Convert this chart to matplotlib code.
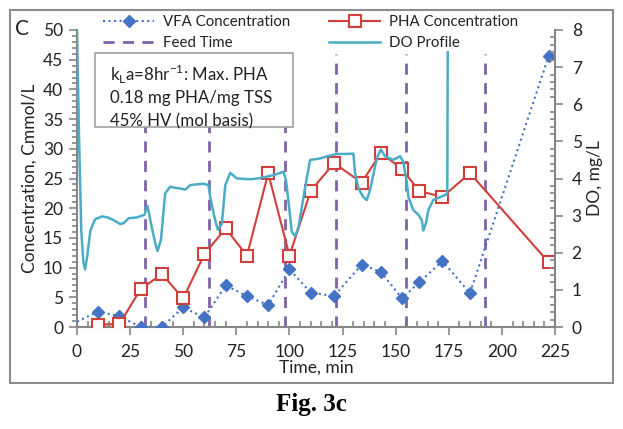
import matplotlib.pyplot as plt
from matplotlib.patches import Rectangle
from matplotlib.ticker import MultipleLocator

plt.rcParams['font.family'] = ['Lato', 'DejaVu Sans']
plt.rcParams['mathtext.fontset'] = 'custom'
plt.rcParams['mathtext.rm'] = 'Lato'

# VFA concentration (Cmmol/L) - first point is the line start, no marker
vfa_t = [0, 10, 20, 30, 40, 50, 60, 70, 80, 90, 100, 110, 121, 134, 143, 153, 161, 172, 185, 222]
vfa_c = [0.9, 2.6, 1.8, 0, 0, 3.3, 1.6, 7.0, 5.2, 3.7, 9.7, 5.8, 5.2, 10.5, 9.3, 4.8, 7.5, 11.1, 5.7, 45.6]

# PHA concentration (Cmmol/L)
pha_t = [10, 20, 30, 40, 50, 60, 70, 80, 90, 100, 110, 121, 134, 143, 153, 161, 172, 185, 222]
pha_c = [0.4, 0.5, 6.4, 8.9, 4.8, 12.3, 16.6, 12.0, 25.9, 12.0, 22.9, 27.6, 24.3, 29.3, 26.6, 22.9, 21.9, 25.9, 10.9]

# feed times (min)
feed_t = [32, 62, 98, 122, 155, 192]
feed_top = 46

# DO profile (mg/L)
do_t = [0, 1.0, 2.0, 3.0, 3.8, 4.8, 6.3, 8.5, 11.8, 14.5, 17.2, 20.4, 22, 24.3, 28, 31.7,
        33.2, 34.5, 36.8, 37.9, 39.5, 41.5, 43.9, 46, 48.6, 51, 53.3, 56, 59.6, 61.9,
        62.7, 64.6, 66.3, 68.2, 69.8, 72.1, 75.3, 81.5, 85, 89.4, 93, 97.2, 98.4, 100,
        101.1, 102.7, 104.3, 106.6, 109.7, 114.4, 118, 122.3, 126, 130.1, 130.9, 132.5,
        134.8, 136.4, 138, 141.1, 143, 145, 148.9, 152.1, 153.6, 155.2, 156, 158.3,
        160.7, 162.3, 163, 164.3, 165.4, 167.7, 170.9, 173.2, 174.3, 174.5]
do_v = [8.0, 5.0, 2.6, 1.75, 1.55, 1.9, 2.6, 2.9, 2.98, 2.95, 2.88, 2.77, 2.8, 2.93, 2.95, 3.02,
        3.26, 2.88, 2.26, 2.05, 2.34, 3.6, 3.78, 3.75, 3.73, 3.7, 3.82, 3.84, 3.86, 3.82,
        3.5, 2.98, 2.62, 2.78, 3.82, 4.15, 4.0, 3.98, 4.0, 4.05, 4.1, 4.18, 3.95, 3.15,
        2.56, 2.45, 2.7, 3.5, 4.5, 4.54, 4.6, 4.66, 4.66, 4.67, 4.14, 3.73,
        3.5, 3.42, 3.7, 4.54, 4.78, 4.6, 4.5, 4.6, 4.45, 3.9, 3.5, 3.15,
        3.02, 2.88, 2.6, 2.8, 3.15, 3.42, 3.5, 3.55, 3.6, 7.4]

W, H = 623, 429
fig = plt.figure(figsize=(W / 100, H / 100), dpi=100)
ax = fig.add_axes([77 / W, 1 - 327 / H, (555 - 77) / W, (327 - 30) / H])
ax2 = ax.twinx()

blue = '#4472C4'
red = '#D23F3A'
cyan = '#4BACC6'
purple = '#7F63A8'
gray = '#868686'

l_vfa, = ax.plot(vfa_t, vfa_c, ls=':', color=blue, lw=1.5, marker='D', ms=6.5,
                 markevery=list(range(1, len(vfa_t))), label='VFA Concentration', zorder=3)
l_pha, = ax.plot(pha_t, pha_c, ls='-', color=red, lw=1.5, marker='s', ms=8,
                 mfc='white', mec=red, mew=1.5, label='PHA Concentration', zorder=4)
feed_lines = []
for t in feed_t:
    ln, = ax.plot([t, t], [0, feed_top], ls=(0, (4, 3)), color=purple, lw=2,
                  label='Feed Time', zorder=2)
    feed_lines.append(ln)
l_do, = ax2.plot(do_t, do_v, color=cyan, lw=1.8, label='DO Profile')

ax.set_xlim(0, 225)
ax.set_ylim(0, 50)
ax2.set_ylim(0, 8)
ax.xaxis.set_major_locator(MultipleLocator(25))
ax.xaxis.set_minor_locator(MultipleLocator(5))
ax.yaxis.set_major_locator(MultipleLocator(5))
ax.yaxis.set_minor_locator(MultipleLocator(1))
ax2.yaxis.set_major_locator(MultipleLocator(1))
ax2.yaxis.set_minor_locator(MultipleLocator(0.2))

for a in (ax, ax2):
    for s in a.spines.values():
        s.set_visible(False)
ax.spines['left'].set_visible(True)
ax.spines['bottom'].set_visible(True)
ax2.spines['right'].set_visible(True)
for s in (ax.spines['left'], ax.spines['bottom'], ax2.spines['right']):
    s.set_color(gray)
    s.set_linewidth(1.5)

ax.tick_params(axis='x', which='major', direction='out', length=6, width=1.2, color=gray,
               labelsize=12.5, pad=6, labelcolor='#222222')
ax.tick_params(axis='x', which='minor', direction='in', length=4, width=1.2, color=gray)
ax.tick_params(axis='y', which='major', direction='out', length=6, width=1.2, color=gray,
               labelsize=12.5, pad=4, labelcolor='#222222')
ax.tick_params(axis='y', which='minor', direction='out', length=3.5, width=1.2, color=gray)
ax2.tick_params(axis='y', which='major', direction='out', length=6, width=1.2, color=gray,
                labelsize=12.5, pad=6, labelcolor='#222222')
ax2.tick_params(axis='y', which='minor', direction='in', length=3.5, width=1.2, color=gray)

ax.set_xlabel('Time, min', fontsize=12.5, labelpad=0, color='#222222')
ax.set_ylabel('Concentration, Cmmol/L', fontsize=12.5, labelpad=4, color='#222222')
ax2.set_ylabel('DO, mg/L', fontsize=12.5, labelpad=4, color='#222222')

# legend across the top
fig.legend(handles=[l_vfa, feed_lines[0], l_pha, l_do], ncol=2, frameon=False,
           loc='upper left', bbox_to_anchor=(103 / W, 1 - 15 / H),
           fontsize=10.8, handlelength=3.4, handletextpad=0.6, columnspacing=2.6,
           labelspacing=0.45, borderpad=0, borderaxespad=0, labelcolor='#222222')

# annotation box
fig.patches.append(Rectangle((95 / W, 1 - 127 / H), (293 - 95) / W, (127 - 53) / H,
                             transform=fig.transFigure, facecolor='white',
                             edgecolor='#a0a0a0', lw=1.2, zorder=5))
box_lines = [r'k$_\mathregular{L}$a=8hr$^\mathregular{-1}$: Max. PHA',
             '0.18 mg PHA/mg TSS', '45% HV (mol basis)']
for i, s in enumerate(box_lines):
    fig.text(110 / W, 1 - (74 + i * 23.5) / H, s, fontsize=12.2, va='center', ha='left',
             color='#222222', zorder=6)

# panel letter, outer frame and caption
fig.text(22 / W, 1 - 29 / H, 'C', fontsize=15, va='center', ha='center', color='#222222')
fig.patches.append(Rectangle((10 / W, 1 - 383 / H), (613 - 10) / W, (383 - 10) / H,
                             transform=fig.transFigure, fill=False, edgecolor='#8c8c8c', lw=1.5))
fig.text(311 / W, 1 - 404 / H, 'Fig. 3c', fontsize=18, fontweight='bold',
         family='Liberation Serif', va='center', ha='center')

fig.savefig('out.png', dpi=100)
